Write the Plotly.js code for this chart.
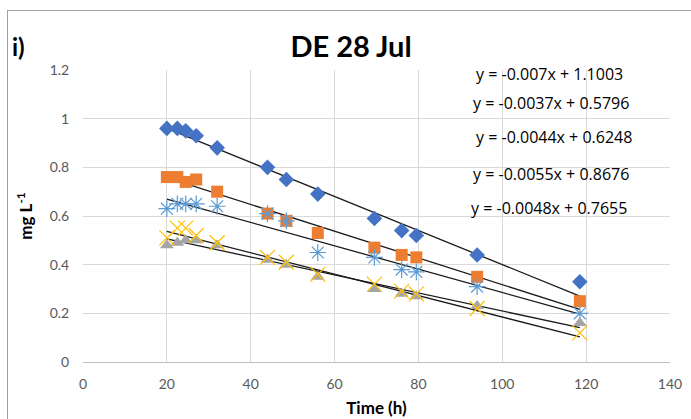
<!DOCTYPE html>
<html>
<head>
<meta charset="utf-8">
<script src="https://cdn.plot.ly/plotly-3.0.1.min.js"></script>
<style>
html,body{margin:0;padding:0;background:#fff;}
#wrap{position:relative;width:691px;height:419px;overflow:hidden;}
#chart{width:691px;height:419px;}
#frame{position:absolute;left:7px;top:10px;width:690px;height:420px;border:1px solid #a0a0a0;pointer-events:none;}
</style>
</head>
<body>
<div id="wrap"><div id="chart"></div><div id="frame"></div></div>
<script>
// Time (h)
var time = [20, 22.5, 24.5, 27, 32, 44, 48.5, 56, 69.5, 76, 79.5, 94, 118.5];
// Series values (mg L-1)
var seriesBlue   = [0.96, 0.96, 0.95, 0.93, 0.88, 0.80, 0.75, 0.69, 0.59, 0.54, 0.52, 0.44, 0.33];
var seriesOrange = [0.76, 0.76, 0.74, 0.75, 0.70, 0.61, 0.58, 0.53, 0.47, 0.44, 0.43, 0.35, 0.25];
var seriesLtBlue = [0.63, 0.65, 0.65, 0.65, 0.64, 0.61, 0.58, 0.45, 0.43, 0.38, 0.37, 0.31, 0.20];
var seriesGray   = [0.48, 0.49, 0.50, 0.50, 0.48, 0.42, 0.40, 0.35, 0.30, 0.28, 0.27, 0.23, 0.16];
var seriesYellow = [0.51, 0.55, 0.55, 0.52, 0.49, 0.43, 0.41, 0.36, 0.32, 0.29, 0.28, 0.22, 0.12];
// Trendline coefficients (slope, intercept) per series
var slopes     = [-0.007, -0.0055, -0.0048, -0.0037, -0.0044];
var intercepts = [1.1003, 0.8676, 0.7655, 0.5796, 0.6248];
// Equation labels (as drawn, top to bottom)
var eqLabels = ["y = -0.007x + 1.1003", "y = -0.0037x + 0.5796", "y = -0.0044x + 0.6248", "y = -0.0055x + 0.8676", "y = -0.0048x + 0.7655"];
var xTicks = [0, 20, 40, 60, 80, 100, 120, 140];
var yTicks = [0, 0.2, 0.4, 0.6, 0.8, 1, 1.2];

var allSeries = [seriesBlue, seriesOrange, seriesLtBlue, seriesGray, seriesYellow];
var symbols = ['diamond', 'square', 'asterisk-open', 'triangle-up', 'x-thin-open'];
var colors = ['#4472C4', '#ED7D31', '#5B9BD5', '#A5A5A5', '#FFC000'];
var sizes = [12, 12, 14, 12, 15];

var traces = [];
for (var i = 0; i < allSeries.length; i++) {
  var xs = [time[0], time[time.length - 1]];
  traces.push({
    x: xs, y: xs.map(function (t) { return slopes[i] * t + intercepts[i]; }),
    mode: 'lines', line: {color: '#1a1a1a', width: 1.3}, hoverinfo: 'skip', showlegend: false
  });
}
for (var j = 0; j < allSeries.length; j++) {
  traces.push({
    x: time, y: allSeries[j], mode: 'markers', showlegend: false,
    marker: {symbol: symbols[j], color: colors[j], size: sizes[j],
      line: {color: colors[j], width: (symbols[j].indexOf('open') >= 0) ? 1.2 : 0}}
  });
}

var eqPos = [[549, 74], [551, 103], [554, 137], [551, 174], [549, 208]];
var annotations = eqLabels.map(function (t, k) {
  return {text: t, xref: 'paper', yref: 'paper',
    x: (eqPos[k][0] - 83) / 587, y: (362 - eqPos[k][1]) / 292,
    xanchor: 'center', yanchor: 'middle', showarrow: false,
    font: {family: '"Open Sans", sans-serif', size: 16, color: '#000'}};
});
annotations.push({text: '<b>i)</b>', xref: 'paper', yref: 'paper',
  x: (10 - 83) / 587, y: (362 - 30) / 292, xanchor: 'left', yanchor: 'top', showarrow: false,
  font: {family: 'Lato, sans-serif', size: 24, color: '#000'}});

var layout = {
  width: 691, height: 419,
  margin: {l: 83, r: 21, t: 70, b: 57},
  paper_bgcolor: '#fff', plot_bgcolor: '#fff',
  title: {text: '<b>DE 28 Jul</b>', x: 351 / 691, xanchor: 'center', xref: 'container',
    y: 1 - 47 / 419, yref: 'container', yanchor: 'middle',
    font: {family: 'Lato, sans-serif', size: 29, color: '#000'}},
  xaxis: {range: [0, 140], tickvals: xTicks, ticktext: xTicks.map(String),
    showgrid: true, gridcolor: '#d9d9d9', gridwidth: 1, zeroline: false,
    showline: true, linecolor: '#bfbfbf', linewidth: 1,
    ticks: 'outside', ticklen: 9, tickcolor: 'rgba(0,0,0,0)',
    tickfont: {family: 'Lato, sans-serif', size: 14, color: '#595959'},
    title: {text: '<b>Time (h)</b>', standoff: 11, font: {family: 'Lato, sans-serif', size: 17, color: '#000'}}},
  yaxis: {range: [0, 1.2], tickvals: yTicks, ticktext: yTicks.map(String),
    showgrid: true, gridcolor: '#d9d9d9', gridwidth: 1, zeroline: false,
    showline: false, ticks: 'outside', ticklen: 10, tickcolor: 'rgba(0,0,0,0)',
    tickfont: {family: 'Lato, sans-serif', size: 14, color: '#595959'},
    title: {text: '<b>mg L<sup>-1</sup></b>', standoff: 12, font: {family: 'Lato, sans-serif', size: 17, color: '#000'}}},
  annotations: annotations
};

Plotly.newPlot('chart', traces, layout, {displayModeBar: false, staticPlot: true});
</script>
</body>
</html>
